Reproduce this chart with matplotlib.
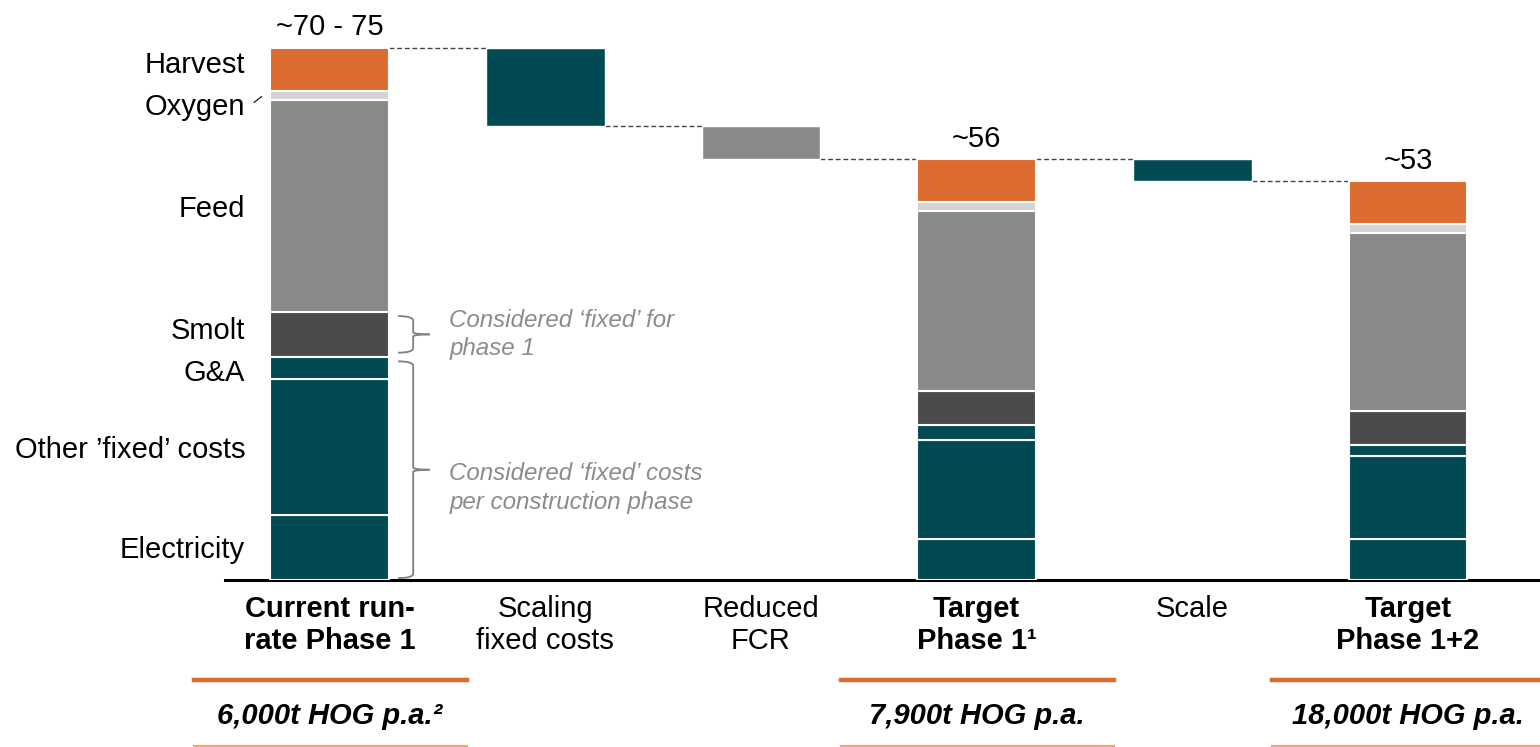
import matplotlib
matplotlib.use("Agg")
import matplotlib.pyplot as plt
import numpy as np
from matplotlib.path import Path
from matplotlib.patches import PathPatch

plt.rcParams['font.family'] = ['Liberation Sans', 'DejaVu Sans']

# ---------------- data ----------------
categories = ["Current run-\nrate Phase 1", "Scaling\nfixed costs", "Reduced\nFCR",
              "Target\nPhase 1\u00b9", "Scale", "Target\nPhase 1+2"]
cat_bold = [True, False, False, True, False, True]
segments = ["Electricity", "Other \u2019fixed\u2019 costs", "G&A", "Smolt", "Feed", "Oxygen", "Harvest"]
current_phase1 = [8.6, 18.0, 3.0, 6.0, 28.0, 1.2, 5.8]
target_phase1 = [5.5, 13.1, 2.0, 4.5, 23.8, 1.2, 5.7]
target_phase12 = [5.4, 11.0, 1.5, 4.5, 23.6, 1.2, 5.7]
deltas = [-10.4, -4.4, -2.9]          # Scaling fixed costs, Reduced FCR, Scale
total_labels = ["~70 - 75", "~56", "~53"]
volume_labels = ["6,000t HOG p.a.\u00b2", "7,900t HOG p.a.", "18,000t HOG p.a."]

# ---------------- style ----------------
TEAL = "#024A53"
ORANGE = "#DC6B30"
seg_colors = [TEAL, TEAL, TEAL, "#4B4B4B", "#898989", "#D4D4D4", ORANGE]
delta_colors = [TEAL, "#898989", TEAL]
ANN = "#8C8C8C"
FS = 21

W, H = 1540, 747
fig = plt.figure(figsize=(W / 100, H / 100), dpi=100)
ax = fig.add_axes([225 / W, (H - 580) / H, (W - 225) / W, 580 / H])
step = 215.7
ax.set_xlim(-(329.5 - 225) / step, (1540 - 329.5) / step)
ax.set_ylim(0, 580 / 7.54)
for s in ["top", "right", "left"]:
    ax.spines[s].set_visible(False)
ax.spines["bottom"].set_linewidth(2.2)
ax.spines["bottom"].set_color("black")
ax.set_xticks([])
ax.set_yticks([])

bw = 0.55
stack_pos = [0, 3, 5]
stacks = [current_phase1, target_phase1, target_phase12]
for pos, vals in zip(stack_pos, stacks):
    bottoms = np.concatenate([[0], np.cumsum(vals)[:-1]])
    ax.bar([pos] * len(vals), vals, bottom=bottoms, width=bw, color=seg_colors,
           edgecolor="white", linewidth=1.5, zorder=3)

# waterfall deltas
delta_pos = [1, 2, 4]
level = sum(current_phase1)
levels = []
for i, (pos, d) in enumerate(zip(delta_pos, deltas)):
    if pos == 4:
        level = sum(target_phase1)
    ax.bar(pos, -d, bottom=level + d, width=bw, color=delta_colors[i],
           edgecolor="white", linewidth=1.0, zorder=3)
    levels.append((pos, level, level + d))
    level = level + d

# connectors
tops = {0: sum(current_phase1), 3: sum(target_phase1), 5: sum(target_phase12)}
conn = [(0, 1, tops[0]), (1, 2, levels[0][2]), (2, 3, levels[1][2]),
        (3, 4, tops[3]), (4, 5, levels[2][2])]
for a, b, y in conn:
    ax.plot([a + bw / 2, b - bw / 2], [y, y], color="#444444", lw=1.0,
            ls=(0, (3.5, 2)), zorder=2)

# totals
for pos, lab in zip(stack_pos, total_labels):
    ax.annotate(lab, xy=(pos, tops[pos]), xytext=(0, 9), textcoords="offset points",
                ha="center", va="baseline", fontsize=FS, color="black")

# category labels
for i, (c, b) in enumerate(zip(categories, cat_bold)):
    ax.annotate(c, xy=(i, 0), xycoords=("data", "axes fraction"), xytext=(0, -10.5),
                textcoords="offset points", ha="center", va="top", fontsize=FS,
                fontweight="bold" if b else "normal", linespacing=1.22, color="black")

# segment labels on left
mids = np.cumsum(current_phase1) - np.array(current_phase1) / 2
lab_off = [0, 0, -2, 4, 0, -6.5, 5]
for name, m, off in zip(segments, mids, lab_off):
    ax.annotate(name, xy=(-bw / 2, m), xytext=(-18, off - 1.8), textcoords="offset points",
                ha="right", va="center", fontsize=FS, color="black")
# oxygen leader
oy = mids[5]
ax.annotate("", xy=(-bw / 2 - 0.03, oy + 0.15), xytext=(-bw / 2 - 0.085, oy - 1.1),
            arrowprops=dict(arrowstyle="-", color="black", lw=0.8))

# braces
def brace(y0, y1):
    x0 = bw / 2 + 0.043
    xs = bw / 2 + 0.113
    xt = bw / 2 + 0.19
    ym = (y0 + y1) / 2
    c = 0.6
    codes = [Path.MOVETO, Path.CURVE3, Path.CURVE3, Path.LINETO, Path.CURVE3, Path.CURVE3]
    verts = [(x0, y1), (xs, y1), (xs, y1 - c), (xs, ym + 0.3), (xs, ym), (xt, ym)]
    ax.add_patch(PathPatch(Path(verts, codes), fill=False, ec="#7F7F7F", lw=1.3, clip_on=False))
    verts2 = [(x0, y0), (xs, y0), (xs, y0 + c), (xs, ym - 0.3), (xs, ym), (xt, ym)]
    ax.add_patch(PathPatch(Path(verts2, codes), fill=False, ec="#7F7F7F", lw=1.3, clip_on=False))
    return xt, ym

cs = np.cumsum(current_phase1)
xt, ym = brace(cs[2] + 0.55, cs[3] - 0.6)
ax.annotate("Considered \u2018fixed\u2019 for\nphase 1", xy=(xt, ym), xytext=(14, 0),
            textcoords="offset points", ha="left", va="center", fontsize=17.4,
            style="italic", color=ANN, linespacing=1.3)
xt, ym = brace(0.25, cs[2] - 0.6)
ax.annotate("Considered \u2018fixed\u2019 costs\nper construction phase", xy=(xt, ym - 2.4), xytext=(14, 0),
            textcoords="offset points", ha="left", va="center", fontsize=17.4,
            style="italic", color=ANN, linespacing=1.3)

# bottom volume rows
for pos, lab in zip(stack_pos, volume_labels):
    x_c = 329.5 + pos * step
    fig.add_artist(plt.Line2D([(x_c - 136) / W, min(x_c + 137, W) / W],
                              [1 - 680 / H, 1 - 680 / H], color=ORANGE, lw=3.2))
    fig.add_artist(plt.Line2D([(x_c - 136) / W, min(x_c + 137, W) / W],
                              [1 - 745.5 / H, 1 - 745.5 / H], color="#F0A478", lw=1.6))
    ax.annotate(lab, xy=(pos, 0), xycoords=("data", "axes fraction"), xytext=(0, -98),
                textcoords="offset points", ha="center", va="center", fontsize=21,
                fontweight="bold", style="italic", color="black")

fig.savefig("out.png", dpi=100)
